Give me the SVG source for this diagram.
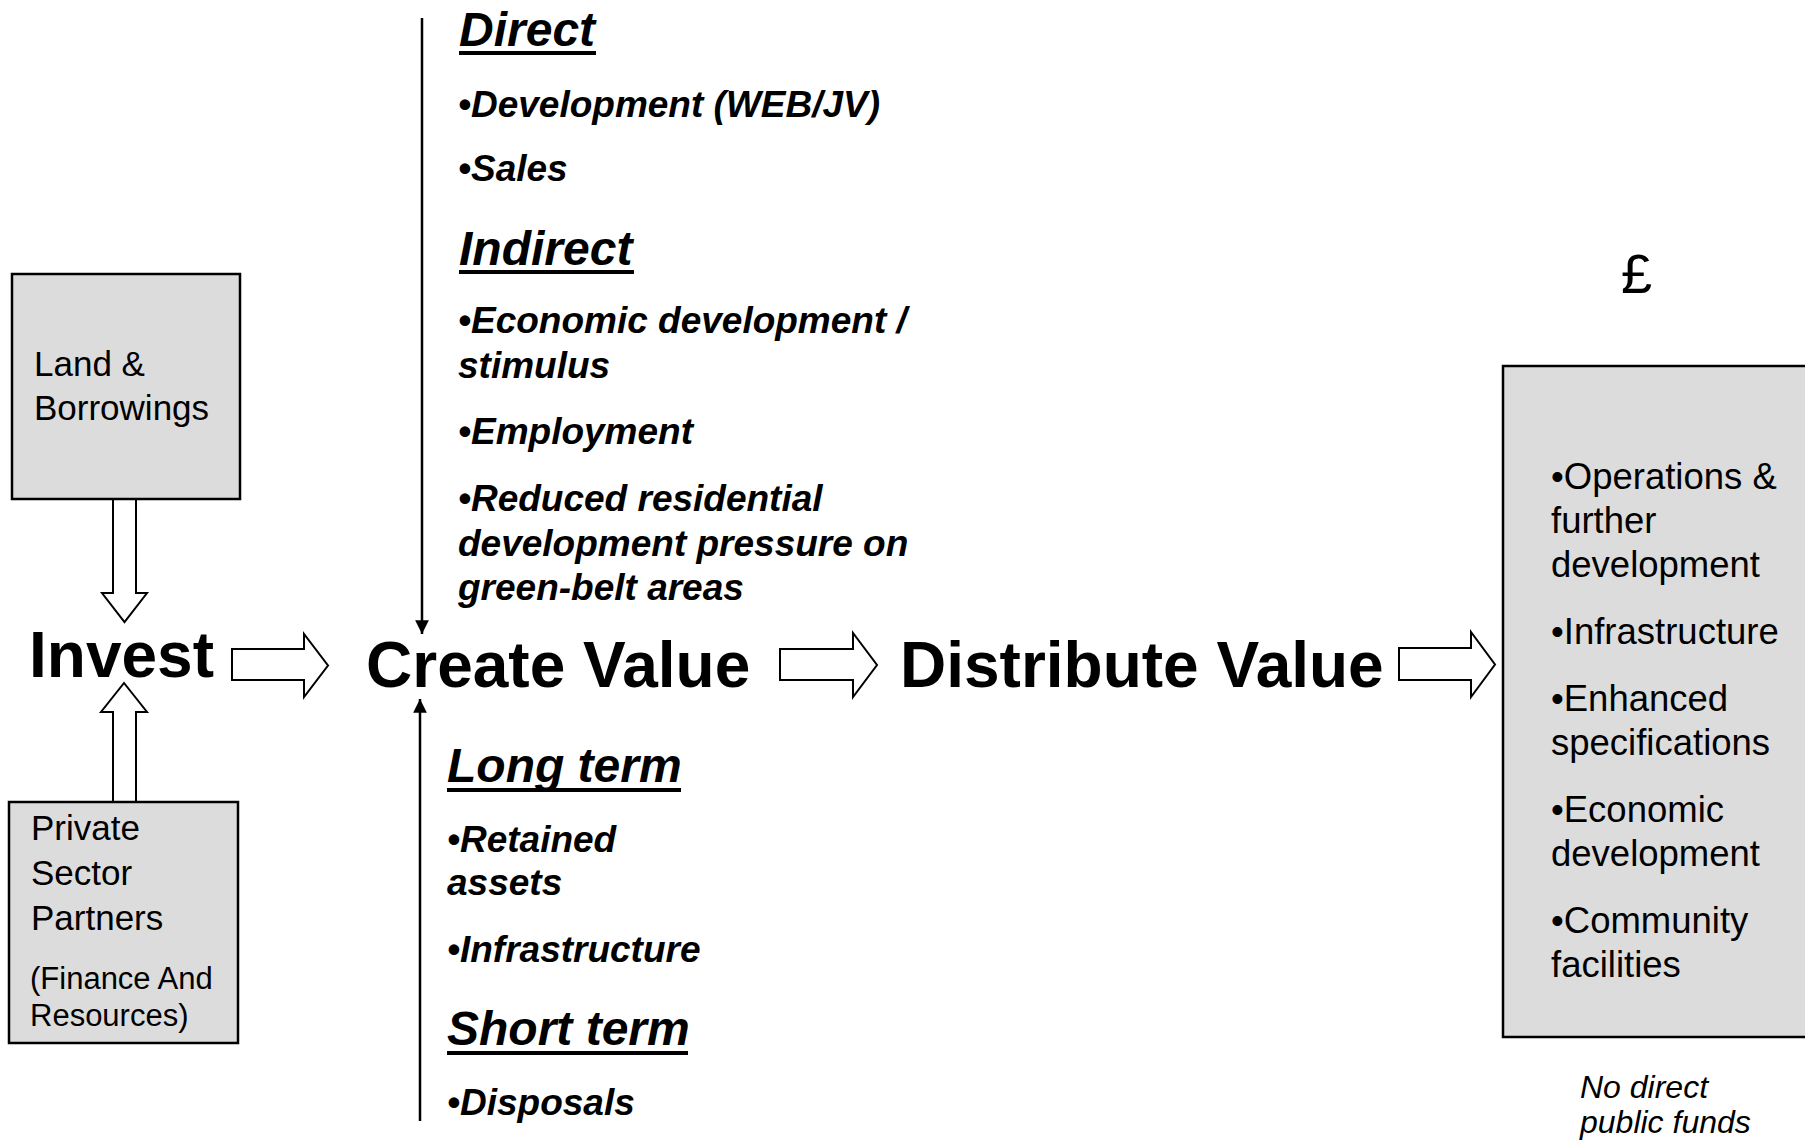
<svg xmlns="http://www.w3.org/2000/svg" width="1805" height="1142" viewBox="0 0 1805 1142">
<style>
  .box { fill: #dcdcdc; stroke: #000; stroke-width: 2.5; }
  .barrow { fill: #fff; stroke: #000; stroke-width: 2; stroke-linejoin: miter; }
  .big { font-family: "Liberation Sans", Arial, sans-serif; font-weight: bold; font-size: 64px; fill: #000; }
  .boxt { font-family: "Liberation Sans", Arial, sans-serif; font-size: 35px; fill: #000; }
  .boxs { font-family: "Liberation Sans", Arial, sans-serif; font-size: 31px; fill: #000; }
  .rbt { font-family: "Liberation Sans", Arial, sans-serif; font-size: 36.5px; fill: #000; }
  .head { font-family: "Liberation Sans", Arial, sans-serif; font-weight: bold; font-style: italic; font-size: 48px; fill: #000; }
  .item { font-family: "Liberation Sans", Arial, sans-serif; font-weight: bold; font-style: italic; font-size: 37px; fill: #000; }
  .note { font-family: "Liberation Sans", Arial, sans-serif; font-style: italic; font-size: 32px; fill: #000; }
  .uline { stroke: #000; stroke-width: 4; }
  .vline { stroke: #000; stroke-width: 2.5; fill: none; }
</style>
<defs>
  <marker id="ah" viewBox="0 0 10 10" refX="10" refY="5" markerWidth="6" markerHeight="5.5" markerUnits="strokeWidth" orient="auto">
    <path d="M0,0 L10,5 L0,10 Z" fill="#000"/>
  </marker>
</defs>
<rect width="1805" height="1142" fill="#fff"/>

<g id="connectors">
  <!-- Land -> Invest (down block arrow) -->
  <polygon class="barrow" points="113,499 136,499 136,593 147,593 124.5,622 102,593 113,593"/>
  <!-- Private -> Invest (up block arrow) -->
  <polygon class="barrow" points="113,802 136,802 136,712 147,712 124,683 101,712 113,712"/>
  <!-- Invest -> Create Value -->
  <polygon class="barrow" points="232,649 304,649 304,634 328,665.5 304,697 304,680 232,680"/>
  <!-- Create Value -> Distribute Value -->
  <polygon class="barrow" points="780,649 853,649 853,633 877,665 853,697 853,680 780,680"/>
  <!-- Distribute Value -> outcomes -->
  <polygon class="barrow" points="1399,648 1471,648 1471,632 1495,664.5 1471,697 1471,680 1399,680"/>
  <!-- top vertical arrow -->
  <line class="vline" x1="422" y1="18" x2="422" y2="634" marker-end="url(#ah)"/>
  <!-- bottom vertical arrow -->
  <line class="vline" x1="420" y1="1121" x2="420" y2="699" marker-end="url(#ah)"/>
</g>

<g id="land-borrowings">
  <rect class="box" x="12" y="274" width="228" height="225"/>
  <text class="boxt" x="34" y="376">Land &amp;</text>
  <text class="boxt" x="34" y="420">Borrowings</text>
</g>

<g id="private-sector">
  <rect class="box" x="9" y="802" width="229" height="241"/>
  <text class="boxt" x="31" y="840">Private</text>
  <text class="boxt" x="31" y="885">Sector</text>
  <text class="boxt" x="31" y="930">Partners</text>
  <text class="boxs" x="30" y="989">(Finance And</text>
  <text class="boxs" x="30" y="1026">Resources)</text>
</g>

<g id="invest">
  <text class="big" x="29" y="677">Invest</text>
</g>

<g id="create-value">
  <text class="big" x="366" y="687">Create Value</text>
</g>

<g id="distribute-value">
  <text class="big" x="900" y="687">Distribute Value</text>
</g>

<g id="direct-indirect">
  <text class="head" x="459" y="46">Direct</text>
  <line class="uline" x1="459" y1="53" x2="596" y2="53"/>
  <text class="item" x="458" y="117">•Development (WEB/JV)</text>
  <text class="item" x="458" y="181">•Sales</text>
  <text class="head" x="459" y="265">Indirect</text>
  <line class="uline" x1="459" y1="272" x2="634" y2="272"/>
  <text class="item" x="458" y="333">•Economic development /</text>
  <text class="item" x="458" y="378">stimulus</text>
  <text class="item" x="458" y="444">•Employment</text>
  <text class="item" x="458" y="511">•Reduced residential</text>
  <text class="item" x="458" y="556">development pressure on</text>
  <text class="item" x="458" y="600">green-belt areas</text>
</g>

<g id="long-short-term">
  <text class="head" x="447" y="782">Long term</text>
  <line class="uline" x1="447" y1="790" x2="681" y2="790"/>
  <text class="item" x="447" y="852">•Retained</text>
  <text class="item" x="447" y="895">assets</text>
  <text class="item" x="447" y="962">•Infrastructure</text>
  <text class="head" x="447" y="1045">Short term</text>
  <line class="uline" x1="447" y1="1053" x2="688" y2="1053"/>
  <text class="item" x="447" y="1115">•Disposals</text>
</g>

<g id="pound">
  <text x="1621" y="293" font-family="Liberation Sans, Arial, sans-serif" font-size="56" fill="#000">£</text>
</g>

<g id="outcomes">
  <rect class="box" x="1503" y="366" width="320" height="671"/>
  <text class="rbt" x="1551" y="489">•Operations &amp;</text>
  <text class="rbt" x="1551" y="533">further</text>
  <text class="rbt" x="1551" y="577">development</text>
  <text class="rbt" x="1551" y="644">•Infrastructure</text>
  <text class="rbt" x="1551" y="711">•Enhanced</text>
  <text class="rbt" x="1551" y="755">specifications</text>
  <text class="rbt" x="1551" y="822">•Economic</text>
  <text class="rbt" x="1551" y="866">development</text>
  <text class="rbt" x="1551" y="933">•Community</text>
  <text class="rbt" x="1551" y="977">facilities</text>
</g>

<g id="note">
  <text class="note" x="1580" y="1098">No direct</text>
  <text class="note" x="1580" y="1133">public funds</text>
</g>
</svg>
